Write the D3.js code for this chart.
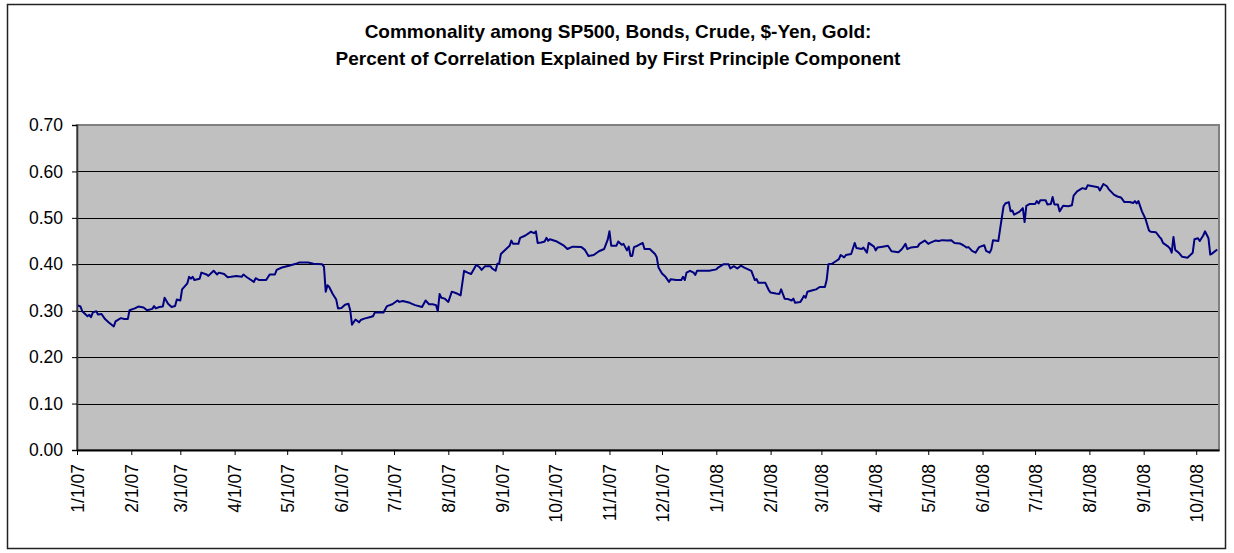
<!DOCTYPE html>
<html>
<head>
<meta charset="utf-8">
<script src="https://cdn.jsdelivr.net/npm/d3@7"></script>
<style>
  html, body { margin: 0; padding: 0; background: #fff; }
  svg { display: block; }
  text { font-family: "Liberation Sans", Arial, sans-serif; fill: #000; }
</style>
</head>
<body>
<svg id="chart" width="1234" height="553"></svg>
<script>
// Chart titles
const titleLines = [
  "Commonality among SP500, Bonds, Crude, $-Yen, Gold:",
  "Percent of Correlation Explained by First Principle Component"
];

// Y axis ticks
const yTicks = [0, 0.1, 0.2, 0.3, 0.4, 0.5, 0.6, 0.7];

// Monthly x-axis ticks
const xTickDates = [
  "2007-01-01","2007-02-01","2007-03-01","2007-04-01","2007-05-01","2007-06-01",
  "2007-07-01","2007-08-01","2007-09-01","2007-10-01","2007-11-01","2007-12-01",
  "2008-01-01","2008-02-01","2008-03-01","2008-04-01","2008-05-01","2008-06-01",
  "2008-07-01","2008-08-01","2008-09-01","2008-10-01"
];

// Observation dates
const dates = [
  "2007-01-01","2007-01-03","2007-01-04","2007-01-07","2007-01-08","2007-01-09","2007-01-10","2007-01-12","2007-01-13","2007-01-15",
  "2007-01-17","2007-01-19","2007-01-22","2007-01-23","2007-01-26","2007-01-28","2007-01-30","2007-01-31","2007-02-03","2007-02-05",
  "2007-02-08","2007-02-10","2007-02-13","2007-02-14","2007-02-15","2007-02-17","2007-02-19","2007-02-20","2007-02-22","2007-02-24",
  "2007-02-26","2007-02-27","2007-03-01","2007-03-02","2007-03-05","2007-03-06","2007-03-07","2007-03-08","2007-03-09","2007-03-12",
  "2007-03-13","2007-03-16","2007-03-17","2007-03-20","2007-03-22","2007-03-23","2007-03-26","2007-03-28","2007-03-30","2007-04-02",
  "2007-04-05","2007-04-06","2007-04-08","2007-04-12","2007-04-13","2007-04-15","2007-04-19","2007-04-21","2007-04-24","2007-04-25",
  "2007-04-28","2007-05-02","2007-05-04","2007-05-06","2007-05-08","2007-05-13","2007-05-16","2007-05-21","2007-05-22","2007-05-23",
  "2007-05-24","2007-05-25","2007-05-27","2007-05-29","2007-05-30","2007-06-01","2007-06-03","2007-06-05","2007-06-06","2007-06-07",
  "2007-06-09","2007-06-11","2007-06-12","2007-06-14","2007-06-17","2007-06-19","2007-06-20","2007-06-25","2007-06-27","2007-06-30",
  "2007-07-03","2007-07-04","2007-07-06","2007-07-10","2007-07-13","2007-07-17","2007-07-19","2007-07-21","2007-07-23","2007-07-25",
  "2007-07-26","2007-07-27","2007-07-28","2007-07-30","2007-08-01","2007-08-03","2007-08-06","2007-08-08","2007-08-10","2007-08-12",
  "2007-08-14","2007-08-17","2007-08-19","2007-08-20","2007-08-22","2007-08-25","2007-08-26","2007-08-28","2007-08-29","2007-08-30",
  "2007-08-31","2007-09-03","2007-09-05","2007-09-06","2007-09-07","2007-09-10","2007-09-11","2007-09-14","2007-09-16","2007-09-17",
  "2007-09-19","2007-09-20","2007-09-21","2007-09-23","2007-09-25","2007-09-26","2007-09-27","2007-09-28","2007-10-02","2007-10-06",
  "2007-10-08","2007-10-11","2007-10-16","2007-10-18","2007-10-20","2007-10-23","2007-10-26","2007-10-29","2007-10-31","2007-11-01",
  "2007-11-02","2007-11-05","2007-11-06","2007-11-08","2007-11-09","2007-11-11","2007-11-12","2007-11-13","2007-11-14","2007-11-15",
  "2007-11-17","2007-11-20","2007-11-21","2007-11-24","2007-11-27","2007-11-28","2007-11-29","2007-12-01","2007-12-03","2007-12-05",
  "2007-12-06","2007-12-09","2007-12-12","2007-12-13","2007-12-14","2007-12-15","2007-12-17","2007-12-19","2007-12-20","2007-12-21",
  "2007-12-28","2008-01-01","2008-01-02","2008-01-05","2008-01-08","2008-01-09","2008-01-11","2008-01-13","2008-01-15","2008-01-17",
  "2008-01-21","2008-01-23","2008-01-24","2008-01-25","2008-01-29","2008-01-31","2008-02-01","2008-02-04","2008-02-06","2008-02-07",
  "2008-02-09","2008-02-11","2008-02-13","2008-02-14","2008-02-15","2008-02-18","2008-02-19","2008-02-20","2008-02-21","2008-02-22",
  "2008-02-25","2008-02-27","2008-02-29","2008-03-03","2008-03-04","2008-03-05","2008-03-07","2008-03-09","2008-03-11","2008-03-12",
  "2008-03-14","2008-03-15","2008-03-18","2008-03-20","2008-03-21","2008-03-24","2008-03-25","2008-03-27","2008-03-28","2008-03-31",
  "2008-04-01","2008-04-02","2008-04-05","2008-04-08","2008-04-10","2008-04-14","2008-04-16","2008-04-18","2008-04-19","2008-04-21",
  "2008-04-25","2008-04-26","2008-04-29","2008-05-01","2008-05-02","2008-05-05","2008-05-07","2008-05-09","2008-05-12","2008-05-14",
  "2008-05-16","2008-05-19","2008-05-21","2008-05-23","2008-05-24","2008-05-26","2008-05-28","2008-05-30","2008-06-02","2008-06-03",
  "2008-06-05","2008-06-06","2008-06-07","2008-06-10","2008-06-11","2008-06-13","2008-06-14","2008-06-16","2008-06-17","2008-06-18",
  "2008-06-19","2008-06-22","2008-06-24","2008-06-25","2008-06-26","2008-06-28","2008-07-01","2008-07-02","2008-07-03","2008-07-04",
  "2008-07-07","2008-07-08","2008-07-10","2008-07-11","2008-07-12","2008-07-14","2008-07-15","2008-07-17","2008-07-20","2008-07-22",
  "2008-07-23","2008-07-25","2008-07-28","2008-07-30","2008-07-31","2008-08-03","2008-08-06","2008-08-07","2008-08-09","2008-08-11",
  "2008-08-12","2008-08-15","2008-08-17","2008-08-19","2008-08-21","2008-08-24","2008-08-26","2008-08-27","2008-08-28","2008-08-29",
  "2008-08-31","2008-09-02","2008-09-04","2008-09-05","2008-09-08","2008-09-10","2008-09-11","2008-09-12","2008-09-15","2008-09-16",
  "2008-09-17","2008-09-18","2008-09-19","2008-09-21","2008-09-23","2008-09-26","2008-09-29","2008-09-30","2008-10-02","2008-10-03",
  "2008-10-05","2008-10-06","2008-10-08","2008-10-09","2008-10-10","2008-10-13"
];

// Share of correlation explained by the first principal component
const values = [
  0.312,0.309,0.299,0.288,0.291,0.286,0.296,0.299,0.292,0.293,
  0.282,0.275,0.266,0.277,0.284,0.282,0.282,0.301,0.305,0.309,
  0.307,0.301,0.304,0.310,0.305,0.308,0.309,0.328,0.315,0.308,
  0.310,0.324,0.322,0.346,0.359,0.373,0.369,0.373,0.366,0.369,
  0.382,0.378,0.375,0.386,0.378,0.382,0.379,0.372,0.373,0.375,
  0.373,0.378,0.372,0.362,0.370,0.366,0.366,0.378,0.378,0.388,
  0.393,0.397,0.399,0.401,0.404,0.404,0.401,0.400,0.395,0.341,
  0.355,0.351,0.336,0.324,0.305,0.306,0.313,0.315,0.301,0.270,
  0.281,0.275,0.280,0.283,0.286,0.288,0.296,0.296,0.310,0.314,
  0.322,0.319,0.321,0.317,0.312,0.308,0.322,0.314,0.314,0.312,
  0.299,0.336,0.328,0.326,0.319,0.341,0.337,0.333,0.386,0.382,
  0.379,0.399,0.393,0.388,0.396,0.396,0.391,0.386,0.401,0.401,
  0.422,0.433,0.440,0.451,0.444,0.444,0.457,0.462,0.467,0.470,
  0.467,0.471,0.446,0.447,0.449,0.457,0.451,0.454,0.449,0.440,
  0.433,0.438,0.437,0.431,0.418,0.420,0.428,0.433,0.453,0.471,
  0.440,0.440,0.449,0.442,0.444,0.430,0.438,0.418,0.418,0.437,
  0.440,0.446,0.433,0.433,0.422,0.415,0.393,0.380,0.373,0.362,
  0.368,0.366,0.366,0.373,0.366,0.382,0.386,0.382,0.377,0.386,
  0.386,0.389,0.393,0.400,0.400,0.391,0.396,0.391,0.397,0.393,
  0.386,0.366,0.368,0.360,0.360,0.344,0.339,0.337,0.336,0.346,
  0.326,0.325,0.322,0.326,0.317,0.319,0.325,0.332,0.328,0.341,
  0.344,0.346,0.351,0.351,0.366,0.400,0.401,0.406,0.411,0.420,
  0.415,0.420,0.422,0.446,0.435,0.433,0.436,0.425,0.446,0.438,
  0.430,0.436,0.438,0.440,0.428,0.426,0.433,0.444,0.433,0.436,
  0.438,0.444,0.451,0.444,0.446,0.451,0.450,0.452,0.451,0.452,
  0.446,0.445,0.441,0.436,0.437,0.429,0.425,0.437,0.441,0.429,
  0.425,0.432,0.452,0.450,0.475,0.525,0.531,0.534,0.514,0.516,
  0.507,0.513,0.521,0.491,0.526,0.530,0.530,0.536,0.531,0.538,
  0.538,0.529,0.530,0.545,0.529,0.529,0.514,0.526,0.525,0.527,
  0.548,0.557,0.564,0.562,0.570,0.568,0.566,0.559,0.573,0.568,
  0.562,0.550,0.546,0.544,0.534,0.534,0.532,0.536,0.531,0.536,
  0.514,0.498,0.473,0.470,0.469,0.459,0.455,0.446,0.438,0.434,
  0.425,0.459,0.431,0.425,0.416,0.414,0.425,0.454,0.456,0.450,
  0.462,0.471,0.456,0.421,0.423,0.432
];

const parse = d3.utcParse("%Y-%m-%d");
const series = dates.map((d, i) => ({ date: parse(d), value: values[i] }));

const svg = d3.select("#chart");
const plot = { left: 77, right: 1219, top: 125, bottom: 450 };

// Outer chart frame
svg.append("rect")
  .attr("x", 7.5).attr("y", 4.5)
  .attr("width", 1218).attr("height", 544)
  .attr("fill", "#fff").attr("stroke", "#222").attr("stroke-width", 1.5);

// Title
svg.append("g").selectAll("text")
  .data(titleLines)
  .join("text")
  .attr("x", 618)
  .attr("y", (d, i) => 38 + i * 27)
  .attr("text-anchor", "middle")
  .style("font-weight", "bold")
  .style("font-size", "19px")
  .text(d => d);

const x = d3.scaleUtc()
  .domain([parse("2007-01-01"), parse("2008-10-14")])
  .range([plot.left, plot.right]);

const y = d3.scaleLinear()
  .domain([0, 0.7])
  .range([plot.bottom, plot.top]);

// Plot area background
svg.append("rect")
  .attr("x", plot.left).attr("y", plot.top)
  .attr("width", plot.right - plot.left).attr("height", plot.bottom - plot.top)
  .attr("fill", "#c0c0c0");

// Horizontal gridlines
svg.append("g")
  .selectAll("line")
  .data(yTicks.filter(t => t > 0 && t < 0.7))
  .join("line")
  .attr("x1", plot.left).attr("x2", plot.right)
  .attr("y1", d => Math.round(y(d)) + 0.5).attr("y2", d => Math.round(y(d)) + 0.5)
  .attr("stroke", "#000").attr("stroke-width", 1);

// Plot area border
svg.append("rect")
  .attr("x", plot.left).attr("y", plot.top)
  .attr("width", plot.right - plot.left).attr("height", plot.bottom - plot.top)
  .attr("fill", "none").attr("stroke", "#808080").attr("stroke-width", 2);

// Data line
const line = d3.line()
  .x(d => x(d.date))
  .y(d => y(d.value));

svg.append("path")
  .datum(series)
  .attr("d", line)
  .attr("fill", "none")
  .attr("stroke", "#000080")
  .attr("stroke-width", 2)
  .attr("stroke-linejoin", "round");

// Y axis
const yAxis = svg.append("g")
  .attr("transform", `translate(${plot.left},0)`)
  .call(d3.axisLeft(y).tickValues(yTicks).tickFormat(d3.format(".2f")).tickSize(5).tickPadding(9));
yAxis.select(".domain").attr("stroke", "#333").attr("stroke-width", 1.5);
yAxis.selectAll(".tick line").attr("stroke", "#000");
yAxis.selectAll(".tick text")
  .style("font-size", "17.5px")
  .style("font-family", "'Liberation Sans', Arial, sans-serif")
  .attr("fill", "#000");

// X axis
const xAxis = svg.append("g")
  .attr("transform", `translate(0,${plot.bottom})`)
  .call(d3.axisBottom(x)
    .tickValues(xTickDates.map(parse))
    .tickFormat(d3.utcFormat("%-m/%-d/%y"))
    .tickSize(5)
    .tickSizeOuter(0));
xAxis.select(".domain").attr("stroke", "#000").attr("stroke-width", 2);
xAxis.selectAll(".tick line").attr("stroke", "#000");
xAxis.selectAll(".tick text")
  .style("font-size", "17.5px")
  .style("font-family", "'Liberation Sans', Arial, sans-serif")
  .attr("fill", "#000")
  .attr("text-anchor", "end")
  .attr("dy", "0.35em")
  .attr("x", 0)
  .attr("y", 0)
  .attr("transform", "translate(0,14) rotate(-90)");
</script>
</body>
</html>
